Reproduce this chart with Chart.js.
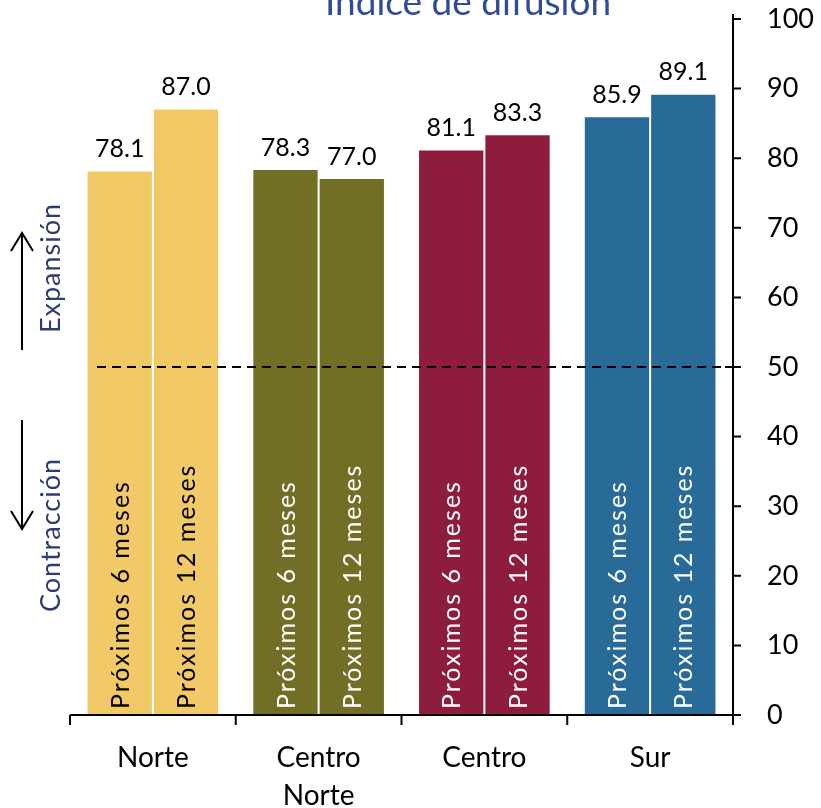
<!DOCTYPE html>
<html>
<head>
<meta charset="utf-8">
<script src="https://cdn.jsdelivr.net/npm/chart.js@4/dist/chart.umd.min.js"></script>
<style>
  html, body { margin: 0; padding: 0; background: #fff; }
  #wrap { width: 821px; height: 808px; }
</style>
</head>
<body>
<div id="wrap"><canvas id="chart" width="821" height="808"></canvas></div>
<script>
// ---- data ----
const regions = [['Norte'], ['Centro', 'Norte'], ['Centro'], ['Sur']];
const next6 = [78.1, 78.3, 81.1, 85.9];
const next12 = [87.0, 77.0, 83.3, 89.1];
const seriesNames = ['Próximos 6 meses', 'Próximos 12 meses'];
const regionColors = ['#F1CA67', '#736E26', '#8D1C3D', '#286A98'];
const innerTextColors = ['#000000', '#FFFFFF', '#FFFFFF', '#FFFFFF'];
const chartTitle = 'Índice de difusión';
const threshold = 50;

const FONT = 'Lato, "Noto Sans", sans-serif';

//------------------------------------------------------------
const overlayPlugin = {
    id: 'overlay',
    afterDatasetsDraw(chart) {
        const ctx = chart.ctx;
        const area = chart.chartArea;
        const y = chart.scales.y;

        ctx.save();

        // dashed reference line at 50
        const y50 = y.getPixelForValue(threshold);
        ctx.strokeStyle = '#000';
        ctx.lineWidth = 2;
        ctx.setLineDash([9, 6]);
        ctx.beginPath();
        ctx.moveTo(97, y50);
        ctx.lineTo(area.right - 8, y50);
        ctx.stroke();
        ctx.setLineDash([]);

        // value labels and vertical labels inside bars
        chart.data.datasets.forEach((ds, di) => {
            const meta = chart.getDatasetMeta(di);
            meta.data.forEach((bar, i) => {
                ctx.fillStyle = '#000';
                ctx.font = '25px ' + FONT;
                ctx.textAlign = 'center';
                ctx.textBaseline = 'bottom';
                ctx.fillText(ds.data[i].toFixed(1), bar.x, bar.y - 10);

                ctx.save();
                ctx.translate(bar.x, bar.base - 6);
                ctx.rotate(-Math.PI / 2);
                ctx.fillStyle = innerTextColors[i];
                ctx.font = '25px ' + FONT;
                ctx.letterSpacing = '2px';
                ctx.textAlign = 'left';
                ctx.textBaseline = 'middle';
                ctx.fillText(seriesNames[di], 0, 1);
                ctx.restore();
            });
        });

        // axis lines
        ctx.strokeStyle = '#000';
        ctx.lineWidth = 2;
        ctx.beginPath();
        ctx.moveTo(area.left, area.bottom);
        ctx.lineTo(area.right + 8, area.bottom);
        ctx.moveTo(area.right, area.top - 5);
        ctx.lineTo(area.right, area.bottom + 10);
        ctx.stroke();

        // y ticks (outward, to the right)
        ctx.beginPath();
        for (let v = 0; v <= 100; v += 10) {
            const py = y.getPixelForValue(v);
            ctx.moveTo(area.right, py);
            ctx.lineTo(area.right + 8, py);
        }
        ctx.moveTo(area.right - 8, y50);
        ctx.lineTo(area.right, y50);
        ctx.stroke();

        // x category boundary ticks
        const step = (area.right - area.left) / regions.length;
        ctx.beginPath();
        for (let i = 0; i <= regions.length; i++) {
            const px = area.left + i * step;
            ctx.moveTo(px, area.bottom);
            ctx.lineTo(px, area.bottom + 10);
        }
        ctx.stroke();

        // title (cut off at top)
        ctx.fillStyle = '#2F4B9B';
        ctx.font = '37px ' + FONT;
        ctx.textAlign = 'center';
        ctx.textBaseline = 'alphabetic';
        ctx.fillText(chartTitle, 468, 15);

        // expansion / contraction notes
        ctx.fillStyle = '#2B3E6E';
        ctx.font = '27px ' + FONT;
        ctx.letterSpacing = '1px';
        ctx.textAlign = 'center';
        ctx.textBaseline = 'middle';
        [['Expansión', 268], ['Contracción', 535]].forEach(([t, cy]) => {
            ctx.save();
            ctx.translate(51, cy);
            ctx.rotate(-Math.PI / 2);
            ctx.fillText(t, 0, 0);
            ctx.restore();
        });
        ctx.letterSpacing = '0px';

        ctx.strokeStyle = '#000';
        ctx.lineWidth = 2;
        ctx.beginPath();
        ctx.moveTo(22, 350); ctx.lineTo(22, 233);
        ctx.moveTo(11, 251); ctx.lineTo(22, 233); ctx.lineTo(33, 251);
        ctx.moveTo(22, 420); ctx.lineTo(22, 529);
        ctx.moveTo(11, 511); ctx.lineTo(22, 529); ctx.lineTo(33, 511);
        ctx.stroke();

        ctx.restore();
    }
};

//------------------------------------------------------------
new Chart(document.getElementById('chart').getContext('2d'), {
    type: 'bar',
    data: {
        labels: regions,
        datasets: [
            {
                label: seriesNames[0],
                data: next6,
                backgroundColor: regionColors,
                categoryPercentage: 0.8,
                barPercentage: 0.97,
            },
            {
                label: seriesNames[1],
                data: next12,
                backgroundColor: regionColors,
                categoryPercentage: 0.8,
                barPercentage: 0.97,
            },
        ],
    },
    options: {
        responsive: false,
        animation: false,
        layout: { padding: { left: 70, top: 19, right: 0, bottom: 0 } },
        plugins: {
            legend: { display: false },
            tooltip: { enabled: false },
        },
        scales: {
            x: {
                grid: { display: false, drawTicks: false },
                border: { display: false },
                ticks: {
                    color: '#000',
                    padding: 24,
                    maxRotation: 0,
                    font: { family: FONT, size: 28, lineHeight: 1.36 },
                },
                afterFit: s => { s.height = 93; s.paddingLeft = 0; s.paddingRight = 0; },
            },
            y: {
                position: 'right',
                min: 0,
                max: 100,
                grid: { display: false, drawTicks: false },
                border: { display: false },
                ticks: {
                    stepSize: 10,
                    color: '#000',
                    padding: 34,
                    font: { family: FONT, size: 27 },
                },
                afterFit: s => { s.width = 88; s.paddingTop = 0; s.paddingBottom = 0; },
            },
        },
    },
    plugins: [overlayPlugin],
});
</script>
</body>
</html>
